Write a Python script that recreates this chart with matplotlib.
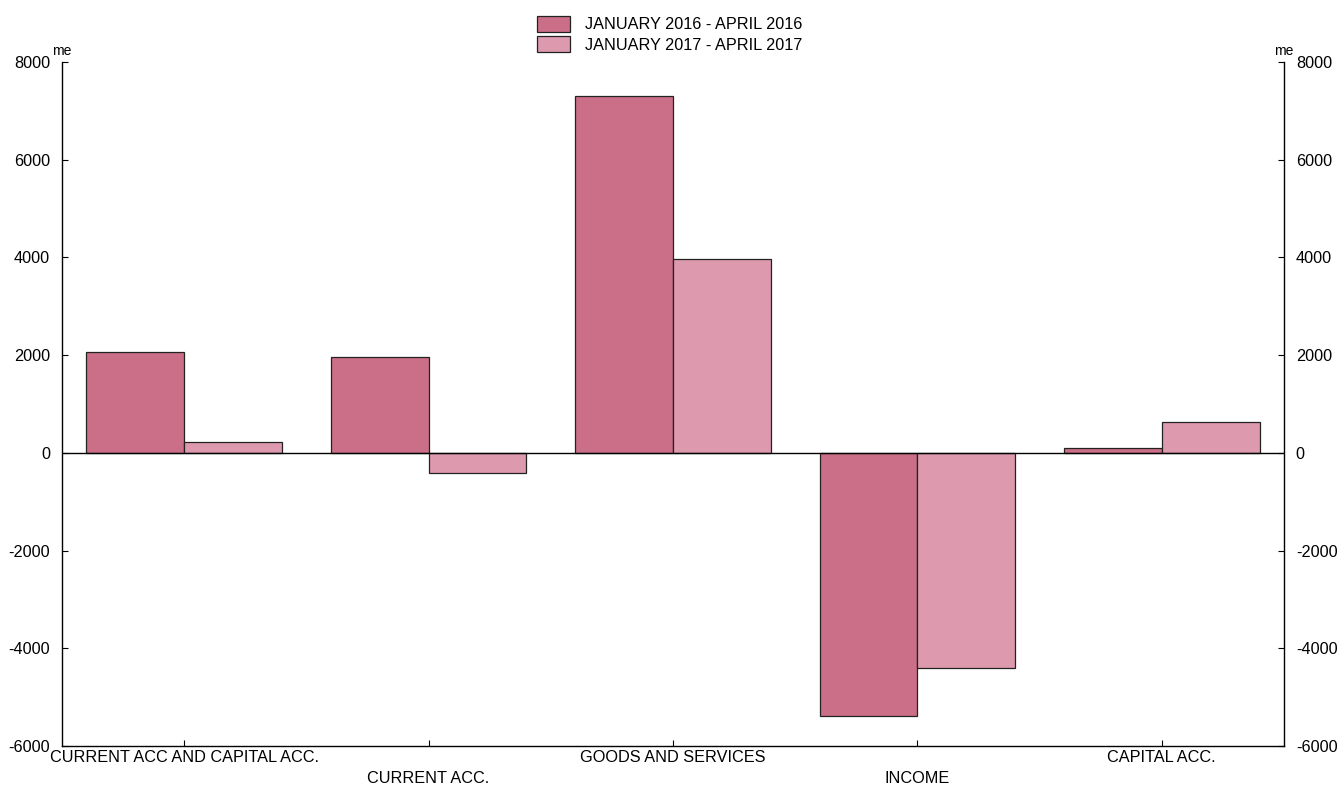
import matplotlib
matplotlib.use("Agg")
import matplotlib.pyplot as plt
import numpy as np

plt.rcParams['font.family'] = ['Liberation Sans', 'DejaVu Sans']

categories = ["CURRENT ACC AND CAPITAL ACC.", "CURRENT ACC.", "GOODS AND SERVICES", "INCOME", "CAPITAL ACC."]
series_names = ["JANUARY 2016 - APRIL 2016", "JANUARY 2017 - APRIL 2017"]
values_2016 = [2060, 1960, 7300, -5380, 100]
values_2017 = [225, -410, 3970, -4400, 630]
colors = ["#CB6E87", "#DD99AD"]
yticks = [-6000, -4000, -2000, 0, 2000, 4000, 6000, 8000]

FS = 11.7
W, H = 1338, 786
fig = plt.figure(figsize=(W/100, H/100), dpi=100)
ax = fig.add_axes([62/W, 1-746/H, (1284-62)/W, (746-62)/H])

x = np.arange(len(categories))
w = 0.4
b1 = ax.bar(x - w/2, values_2016, w, color=colors[0], edgecolor="#222222", linewidth=0.9, label=series_names[0])
b2 = ax.bar(x + w/2, values_2017, w, color=colors[1], edgecolor="#222222", linewidth=0.9, label=series_names[1])
ax.axhline(0, color="black", linewidth=1.0, zorder=3)

ax.set_xlim(-0.5, len(categories) - 0.5)
ax.set_ylim(-6000, 8000)
ax.set_yticks(yticks)
ax.set_yticklabels([str(v) for v in yticks])
ax.tick_params(axis='y', direction='in', length=4, labelsize=FS, left=True, right=True,
               labelleft=True, labelright=True, pad=8.5)
ax.set_xticks(x)
ax.set_xticklabels([])
ax.tick_params(axis='x', direction='in', length=4)
for i, c in enumerate(categories):
    off = 25 if i % 2 else 4
    ax.text(i, -off/684, c, transform=ax.get_xaxis_transform(),
            ha='center', va='top', fontsize=FS)
ax.spines['top'].set_visible(False)
for s in ['left', 'right', 'bottom']:
    ax.spines[s].set_linewidth(1.0)

ax.text(0, 1 + 4/684, "me", transform=ax.transAxes, ha='center', va='bottom', fontsize=10)
ax.text(1, 1 + 4/684, "me", transform=ax.transAxes, ha='center', va='bottom', fontsize=10)

fig.legend(handles=[b1, b2], labels=series_names, loc='upper left', bbox_to_anchor=(537/W, 1-16/H),
           frameon=False, fontsize=FS, handlelength=2.03, handleheight=1.12, handletextpad=0.92,
           labelspacing=0.24, borderpad=0, borderaxespad=0)

fig.savefig("out.png", dpi=100)
